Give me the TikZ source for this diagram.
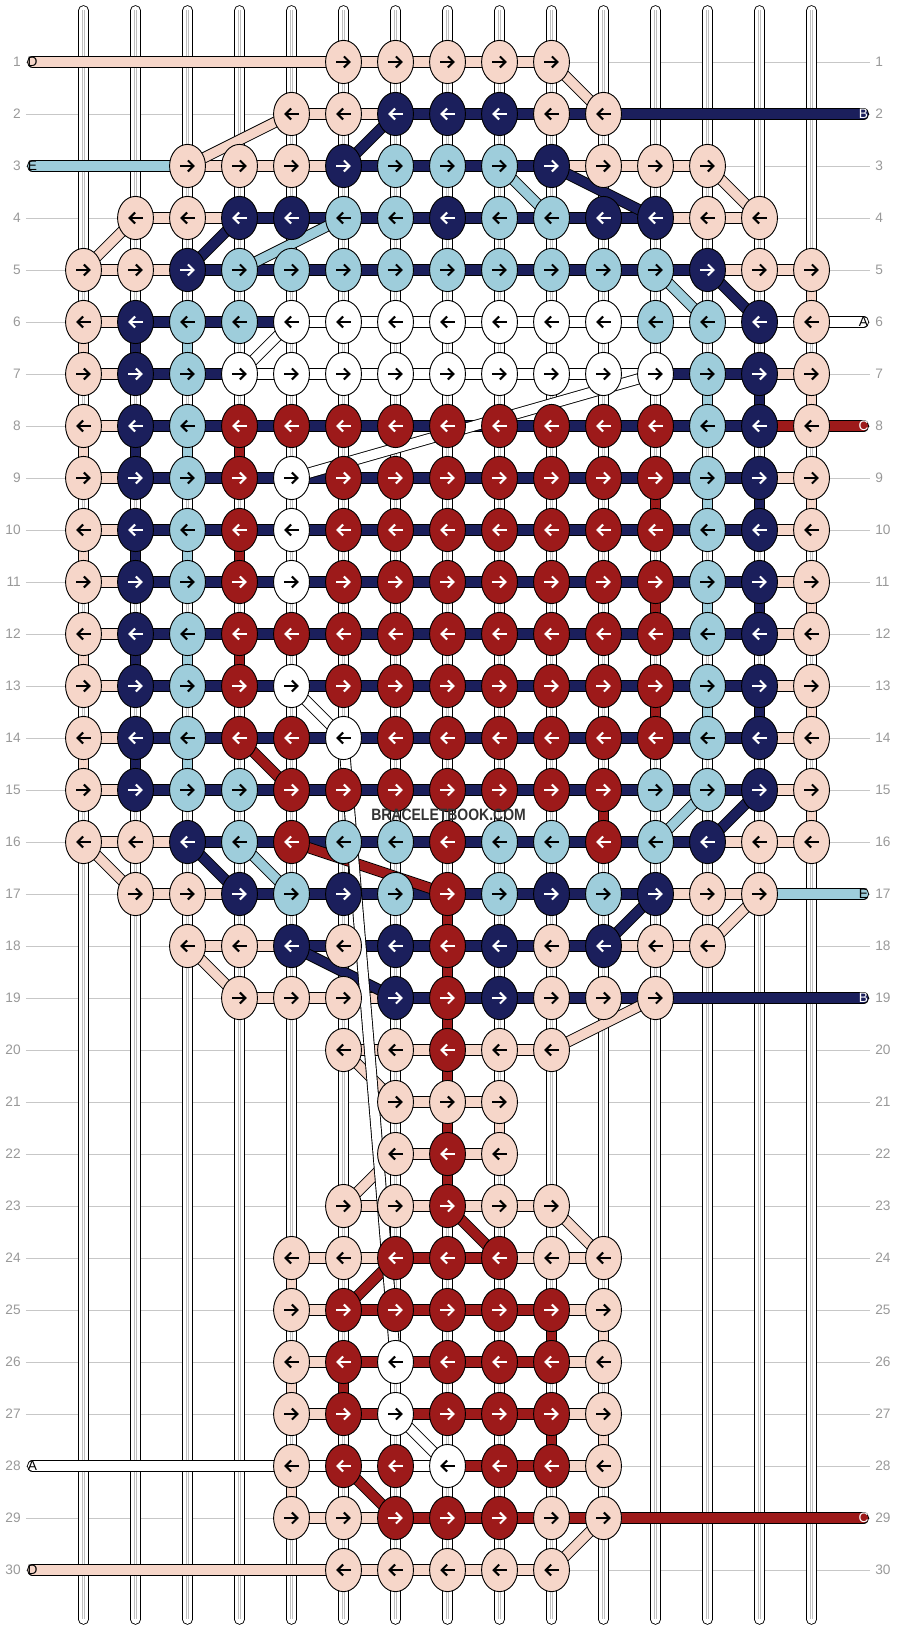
\documentclass[tikz,border=0pt]{standalone}
\usepackage{fontspec}
\setmainfont{Liberation Sans}
\usepackage{tikz}
\usetikzlibrary{shapes.geometric,arrows.meta,positioning}
\pgfdeclarelayer{grid}
\pgfdeclarelayer{tubes}
\pgfdeclarelayer{threads}
\pgfsetlayers{grid,tubes,threads,main}

\definecolor{P}{HTML}{F6D6C9}
\definecolor{N}{HTML}{1B1F5C}
\definecolor{L}{HTML}{9ECDDB}
\definecolor{R}{HTML}{9D1A1A}
\definecolor{W}{HTML}{FFFFFF}
% arrow (and end letter) colour on each thread colour
\colorlet{arrowP}{black}
\colorlet{arrowN}{white}
\colorlet{arrowL}{black}
\colorlet{arrowW}{black}
\colorlet{arrowR}{white}

\tikzset{
    knot/.style={
        ellipse,
        draw=black, line width=0.5pt,
        minimum width=0.69cm,
        minimum height=0.83cm,
        inner sep=0pt
    },
    knotarrow/.style={line width=1.1pt, -{Straight Barb[length=3pt,width=6pt]}},
    thread/.style={draw=black, line width=0.5pt, double=#1, double distance=0.18cm},
    tube/.style={draw=black, line width=0.5pt, double=white, double distance=0.17cm, line cap=round},
    tubecore/.style={draw=black!25, line width=0.4pt, double=white, double distance=0.9pt},
    gridline/.style={draw=black!22, line width=0.5pt},
    rowlbl/.style={font={\fontsize{7.5pt}{9pt}\selectfont}, text=black!40, inner xsep=0.09cm, inner ysep=0pt},
    endlbl/.style={font={\fontsize{7.5pt}{8pt}\selectfont}, inner sep=0pt},
}

% row, first column, knot colours
\newcommand{\knotrow}[3]{%
    \ifodd#1\relax\def\sgn{1}\else\def\sgn{-1}\fi
    \foreach \k [count=\c from #2] in {#3} {
        \node[knot, fill=\k] (k-#1-\c) at (\c,1-#1) {};
        \draw[knotarrow, draw=arrow\k] ([xshift={-4pt*(\sgn)}]k-#1-\c.center) -- ([xshift={4pt*(\sgn)}]k-#1-\c.center);
    }
}
% row, first column, colours of the links to the right
\newcommand{\linkrow}[3]{%
    \begin{pgfonlayer}{threads}
    \foreach \k [count=\c from #2] in {#3} {
        \pgfmathtruncatemacro{\n}{\c+1}
        \draw[thread=\k] (k-#1-\c.center) -- (k-#1-\n.center);
    }
    \end{pgfonlayer}
}

\begin{document}
\begin{tikzpicture}
\useasboundingbox (-1.606,1.192) rectangle (15.625,-30.192);

% grid and row numbers
\begin{pgfonlayer}{grid}
\foreach \r in {1,...,30} {
    \node[rowlbl, anchor=east] (lft-\r) at (-1.11,1-\r) {\r};
    \node[rowlbl, anchor=west] (rgt-\r) at (15.13,1-\r) {\r};
    \draw[gridline] (lft-\r.east) -- (rgt-\r.west);
}
\end{pgfonlayer}

% strings
\begin{pgfonlayer}{tubes}
\foreach \c in {0,...,14} {
    \coordinate (top-\c) at (\c,0.99);
    \coordinate (bot-\c) at (\c,-29.95);
    \draw[tube] (top-\c) -- (bot-\c);
    \draw[tubecore] (top-\c) -- (bot-\c);
}
\end{pgfonlayer}

\knotrow{1}{5}{P,P,P,P,P}
\knotrow{2}{4}{P,P,N,N,N,P,P}
\knotrow{3}{2}{P,P,P,N,L,L,L,N,P,P,P}
\knotrow{4}{1}{P,P,N,N,L,L,N,L,L,N,N,P,P}
\knotrow{5}{0}{P,P,N,L,L,L,L,L,L,L,L,L,N,P,P}
\knotrow{6}{0}{P,N,L,L,W,W,W,W,W,W,W,L,L,N,P}
\knotrow{7}{0}{P,N,L,W,W,W,W,W,W,W,W,W,L,N,P}
\knotrow{8}{0}{P,N,L,R,R,R,R,R,R,R,R,R,L,N,P}
\knotrow{9}{0}{P,N,L,R,W,R,R,R,R,R,R,R,L,N,P}
\knotrow{10}{0}{P,N,L,R,W,R,R,R,R,R,R,R,L,N,P}
\knotrow{11}{0}{P,N,L,R,W,R,R,R,R,R,R,R,L,N,P}
\knotrow{12}{0}{P,N,L,R,R,R,R,R,R,R,R,R,L,N,P}
\knotrow{13}{0}{P,N,L,R,W,R,R,R,R,R,R,R,L,N,P}
\knotrow{14}{0}{P,N,L,R,R,W,R,R,R,R,R,R,L,N,P}
\knotrow{15}{0}{P,N,L,L,R,R,R,R,R,R,R,L,L,N,P}
\knotrow{16}{0}{P,P,N,L,R,L,L,R,L,L,R,L,N,P,P}
\knotrow{17}{1}{P,P,N,L,N,L,R,L,N,L,N,P,P}
\knotrow{18}{2}{P,P,N,P,N,R,N,P,N,P,P}
\knotrow{19}{3}{P,P,P,N,R,N,P,P,P}
\knotrow{20}{5}{P,P,R,P,P}
\knotrow{21}{6}{P,P,P}
\knotrow{22}{6}{P,R,P}
\knotrow{23}{5}{P,P,R,P,P}
\knotrow{24}{4}{P,P,R,R,R,P,P}
\knotrow{25}{4}{P,R,R,R,R,R,P}
\knotrow{26}{4}{P,R,W,R,R,R,P}
\knotrow{27}{4}{P,R,W,R,R,R,P}
\knotrow{28}{4}{P,R,R,W,R,R,P}
\knotrow{29}{4}{P,P,R,R,R,P,P}
\knotrow{30}{5}{P,P,P,P,P}

% threads turning down to the next row
\begin{pgfonlayer}{threads}
\foreach \r/\c/\k in {5/14/P, 6/0/P, 6/1/N, 6/2/L, 7/12/L, 7/13/N, 7/14/P,
    8/0/P, 8/1/N, 8/2/L, 8/3/R, 9/11/R, 9/12/L, 9/13/N, 9/14/P,
    10/0/P, 10/1/N, 10/2/L, 10/3/R, 11/11/R, 11/12/L, 11/13/N, 11/14/P,
    12/0/P, 12/1/N, 12/2/L, 12/3/R, 13/11/R, 13/12/L, 13/13/N, 13/14/P,
    14/0/P, 14/1/N, 14/2/L, 15/10/R, 15/14/P,
    17/7/R, 18/7/R, 19/7/R, 20/7/R, 21/7/R, 21/8/P, 22/7/R,
    24/4/P, 25/9/R, 25/10/P, 26/4/P, 26/5/R, 27/9/R, 27/10/P, 28/4/P} {
    \pgfmathtruncatemacro{\s}{\r+1}
    \draw[thread=\k] (k-\r-\c.center) -- (k-\s-\c.center);
}
\end{pgfonlayer}

\linkrow{1}{5}{P,P,P,P}
\linkrow{2}{4}{P,P,N,N,N,N}
\linkrow{3}{2}{P,P,P,N,N,N,N,P,P,P}
\linkrow{4}{1}{P,P,N,N,N,N,N,N,N,N,P,P}
\linkrow{5}{0}{P,P,N,N,N,N,N,N,N,N,N,N,P,P}
\linkrow{6}{0}{P,N,N,N,W,W,W,W,W,W,W,W,W,W}
\linkrow{7}{0}{P,N,N,W,W,W,W,W,W,W,W,N,N,P}
\linkrow{8}{0}{P,N,N,N,N,N,N,N,N,N,N,N,N,R}
\foreach \r in {9,...,15} {
    \linkrow{\r}{0}{P,N,N,N,N,N,N,N,N,N,N,N,N,P}
}
\linkrow{16}{0}{P,P,N,N,N,N,N,N,N,N,N,N,P,P}
\linkrow{17}{1}{P,P,N,N,N,N,N,N,N,N,P,P}
\linkrow{18}{2}{P,P,N,N,N,N,N,N,P,P}
\linkrow{19}{3}{P,P,P,N,N,N,N,N}
\linkrow{20}{5}{P,P,P,P}
\linkrow{21}{6}{P,P}
\linkrow{22}{6}{P,P}
\linkrow{23}{5}{P,P,P,P}
\linkrow{24}{4}{P,P,R,R,P,P}
\linkrow{25}{4}{P,R,R,R,R,P}
\linkrow{26}{4}{P,R,R,R,R,P}
\linkrow{27}{4}{P,R,R,R,R,P}
\linkrow{28}{4}{W,W,W,R,R,P}
\linkrow{29}{4}{P,P,R,R,R,R}
\linkrow{30}{5}{P,P,P,P}

% threads changing column
\begin{pgfonlayer}{threads}
\foreach \a/\b/\k in {3-2/2-4/P, 3-5/2-6/N, 1-9/2-10/P, 3-8/4-9/L, 3-9/4-11/N,
    3-12/4-13/P, 5-0/4-1/P, 5-2/4-3/N, 5-3/4-5/L, 5-11/6-12/L, 5-12/6-13/N,
    6-4/7-3/W, 7-11/9-4/W, 13-4/14-5/W, 14-3/15-4/R,
    15-12/16-11/L, 15-13/16-12/N, 16-0/17-1/P, 16-2/17-3/N, 16-3/17-4/L,
    16-4/17-7/R, 17-11/18-10/N, 17-13/18-12/P, 18-2/19-3/P, 18-4/19-6/N,
    19-11/20-9/P, 20-5/21-6/P, 22-6/23-5/P, 23-7/24-8/R, 23-9/24-10/P,
    24-6/25-5/R, 27-6/28-7/W, 28-5/29-6/R, 29-10/30-9/P, 14-5/26-6/W} {
    \draw[thread=\k] (k-\a.center) -- (k-\b.center);
}
\end{pgfonlayer}

% loose thread ends
\foreach \t/\r/\x/\c/\k in {D/1/-0.98/5/P, B/2/15/10/N, E/3/-0.98/2/L, A/6/15/14/W,
    C/8/15/14/R, E/17/15/13/L, B/19/15/11/N, A/28/-0.98/4/W, C/29/15/10/R,
    D/30/-0.98/5/P} {
    \node[endlbl, text=arrow\k] (end-\r) at (\x,1-\r) {\t};
    \begin{pgfonlayer}{threads}
    \draw[thread=\k, line cap=round] (end-\r.center) -- (k-\r-\c.center);
    \end{pgfonlayer}
}

\node[font={\bfseries\fontsize{9pt}{10pt}\selectfont}, text=black!80, inner sep=0pt] (brand) at (7.02,-14.48) {\scalebox{0.85}[1]{BRACELETBOOK.COM}};
\end{tikzpicture}
\end{document}
